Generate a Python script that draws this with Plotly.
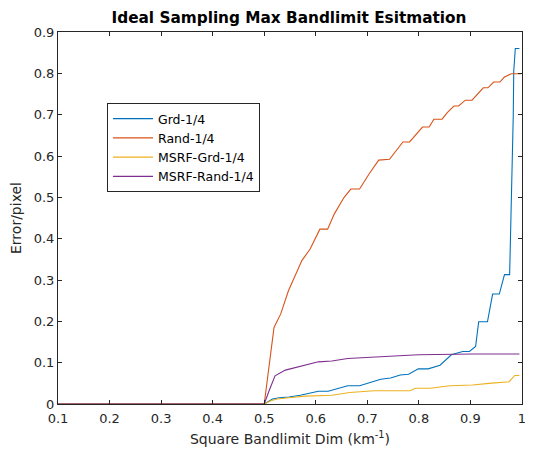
import plotly.graph_objects as go

# Grd-1/4
grd_x = [0.1, 0.5, 0.516, 0.529, 0.548, 0.570, 0.605, 0.624, 0.662, 0.685, 0.726, 0.745, 0.764,
         0.780, 0.799, 0.818, 0.841, 0.863, 0.885, 0.898, 0.910, 0.916, 0.933, 0.943, 0.956,
         0.966, 0.976, 0.977, 0.979, 0.981, 0.983, 0.984, 0.987, 0.995]
grd_y = [0, 0, 0.012, 0.015, 0.017, 0.021, 0.031, 0.031, 0.044, 0.044, 0.060, 0.063, 0.070,
         0.072, 0.085, 0.085, 0.094, 0.119, 0.127, 0.127, 0.139, 0.199, 0.199, 0.266, 0.266,
         0.313, 0.313, 0.363, 0.476, 0.584, 0.695, 0.805, 0.860, 0.860]

# Rand-1/4
rand_x = [0.1, 0.5, 0.519, 0.532, 0.547, 0.573, 0.589, 0.608, 0.623, 0.636, 0.655, 0.668, 0.685,
          0.703, 0.722, 0.743, 0.769, 0.782, 0.807, 0.820, 0.829, 0.845, 0.855, 0.868, 0.877,
          0.890, 0.903, 0.925, 0.934, 0.945, 0.957, 0.966, 0.979, 0.998]
rand_y = [0, 0, 0.185, 0.218, 0.274, 0.347, 0.375, 0.423, 0.423, 0.460, 0.500, 0.520, 0.520,
          0.556, 0.590, 0.592, 0.634, 0.634, 0.670, 0.670, 0.689, 0.689, 0.705, 0.721, 0.721,
          0.735, 0.735, 0.765, 0.765, 0.779, 0.779, 0.791, 0.799, 0.799]

# MSRF-Grd-1/4
mgrd_x = [0.1, 0.5, 0.513, 0.525, 0.548, 0.580, 0.631, 0.666, 0.713, 0.783, 0.793, 0.822, 0.860,
          0.904, 0.936, 0.975, 0.986, 0.995]
mgrd_y = [0, 0, 0.008, 0.012, 0.015, 0.019, 0.021, 0.028, 0.032, 0.032, 0.038, 0.038, 0.044,
          0.046, 0.050, 0.054, 0.069, 0.069]

# MSRF-Rand-1/4
mrand_x = [0.1, 0.5, 0.510, 0.521, 0.541, 0.573, 0.605, 0.631, 0.662, 0.707, 0.745, 0.799, 0.904, 0.995]
mrand_y = [0, 0, 0.034, 0.068, 0.082, 0.092, 0.102, 0.104, 0.110, 0.113, 0.116, 0.119, 0.121, 0.121]

names = ["Grd-1/4", "Rand-1/4", "MSRF-Grd-1/4", "MSRF-Rand-1/4"]
colors = ["#0072BD", "#D95319", "#EDB120", "#7E2F8E"]
series = [(grd_x, grd_y), (rand_x, rand_y), (mgrd_x, mgrd_y), (mrand_x, mrand_y)]

x_ticks = [0.1, 0.2, 0.3, 0.4, 0.5, 0.6, 0.7, 0.8, 0.9, 1.0]
x_labels = ["0.1", "0.2", "0.3", "0.4", "0.5", "0.6", "0.7", "0.8", "0.9", "1"]
y_ticks = [0, 0.1, 0.2, 0.3, 0.4, 0.5, 0.6, 0.7, 0.8, 0.9]
y_labels = ["0", "0.1", "0.2", "0.3", "0.4", "0.5", "0.6", "0.7", "0.8", "0.9"]

fig = go.Figure()
for (xs, ys), n, c in zip(series, names, colors):
    fig.add_trace(go.Scatter(x=xs, y=ys, mode="lines", name=n,
                             line=dict(color=c, width=1.1)))

axcol = "#262626"
font = "DejaVu Sans"
# page has an 8px body margin; figure is sized/offset to compensate
W, H = 517, 440
L, R, T, B = 50, 3, 24, 44
PW, PH = W - L - R, H - T - B
fig.update_layout(
    width=W, height=H,
    margin=dict(l=L, r=R, t=T, b=B, autoexpand=False),
    paper_bgcolor="white", plot_bgcolor="white",
    font=dict(family=font, color=axcol, size=12),
    title=dict(text="<b>Ideal Sampling Max Bandlimit Esitmation</b>",
               x=281 / W, xanchor="center", y=1 - 10 / H, yanchor="middle",
               font=dict(size=15.3, color="black", family=font)),
    legend=dict(x=(107 - 8 - L) / PW, y=(396 - 95) / PH, xanchor="left", yanchor="top",
                bgcolor="white", bordercolor=axcol, borderwidth=1,
                font=dict(size=12.5, color="black", family=font),
                itemwidth=40, tracegroupgap=0),
    showlegend=True,
)
fig.update_xaxes(range=[0.1, 1.0], tickvals=x_ticks, ticktext=x_labels, automargin=False,
                 showgrid=False, zeroline=False, showline=True, linecolor=axcol, linewidth=1,
                 mirror="allticks", ticks="inside", ticklen=4, tickcolor=axcol,
                 ticklabelstandoff=2, ticklabeloverflow="allow",
                 tickfont=dict(size=13, color=axcol),
                 title=dict(text="Square Bandlimit Dim (km<sup>-1</sup>)",
                            font=dict(size=14, color=axcol), standoff=9))
fig.update_yaxes(range=[0, 0.9], tickvals=y_ticks, ticktext=y_labels, automargin=False,
                 showgrid=False, zeroline=False, showline=True, linecolor=axcol, linewidth=1,
                 mirror="allticks", ticks="inside", ticklen=4, tickcolor=axcol,
                 ticklabeloverflow="allow",
                 tickfont=dict(size=13, color=axcol),
                 title=dict(text="Error/pixel", font=dict(size=14, color=axcol), standoff=14))

fig.write_html("out.html")
